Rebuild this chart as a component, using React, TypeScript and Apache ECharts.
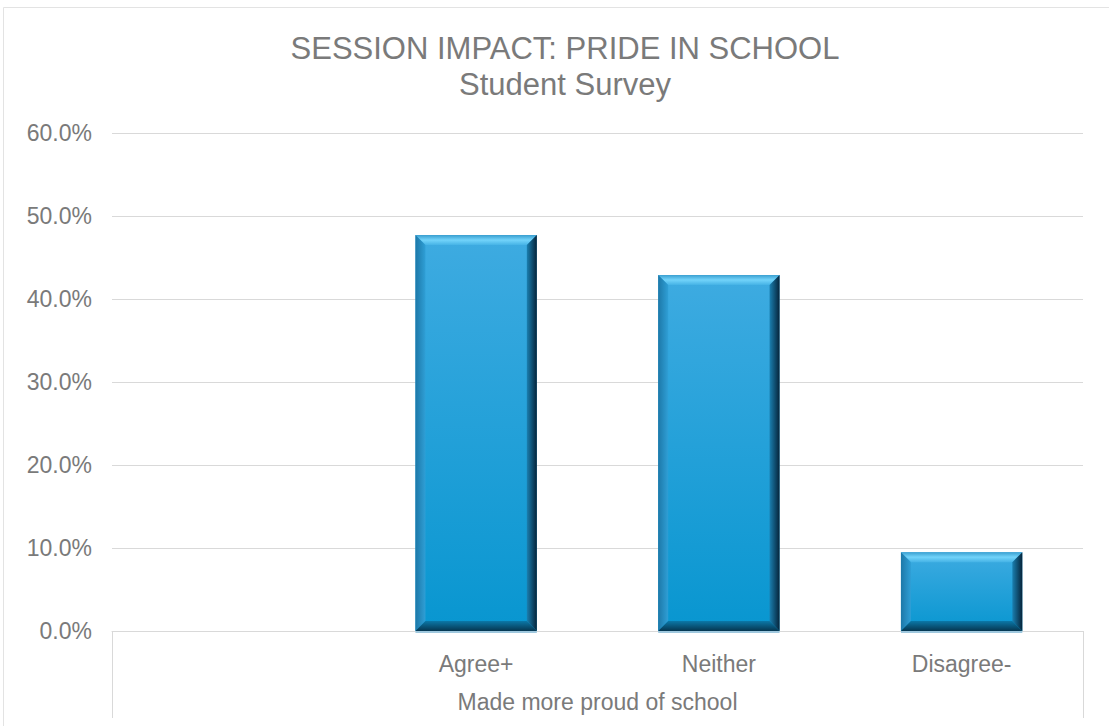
import React, { useEffect, useRef } from "react";
import * as echarts from "echarts";

const titleText = "SESSION IMPACT: PRIDE IN SCHOOL";
const subtitleText = "Student Survey";
const categories = ["", "Agree+", "Neither", "Disagree-"];
const values: (number | null)[] = [null, 47.7, 42.9, 9.5];
const groupLabel = "Made more proud of school";

const textColor = "#7a7a7a";
const lineColor = "#d9d9d9";
const font = "Liberation Sans, Arial, sans-serif";

export default function App() {
  const ref = useRef<HTMLDivElement>(null);
  useEffect(() => {
    if (!ref.current) return;
    const chart = echarts.init(ref.current, undefined, { renderer: "svg" });
    const data = values
      .map((v, i) => (v == null ? null : [i, v]))
      .filter((d) => d != null);
    chart.setOption({
      animation: false,
      backgroundColor: "#fff",
      textStyle: { fontFamily: font },
      title: {
        text: titleText + "\n" + subtitleText,
        left: 560,
        textAlign: "center",
        top: 25,
        textStyle: {
          fontSize: 31,
          fontWeight: "normal",
          color: textColor,
          lineHeight: 36,
          fontFamily: font,
        },
      },
      graphic: [
        {
          type: "rect",
          shape: { x: 3.5, y: 7.5, width: 1200, height: 800 },
          style: { fill: "none", stroke: "#e3e3e3", lineWidth: 1 },
          silent: true,
        },
      ],
      grid: { left: 112, right: 26, top: 133, bottom: 95 },
      xAxis: [
        {
          type: "category",
          data: categories,
          position: "bottom",
          axisLine: { show: true, lineStyle: { color: lineColor } },
          axisTick: { show: false },
          axisLabel: { color: textColor, fontSize: 23, margin: 21, interval: 0 },
        },
        {
          type: "category",
          data: [groupLabel],
          position: "bottom",
          offset: 0,
          axisLine: { show: false },
          axisTick: { show: true, length: 87, lineStyle: { color: lineColor } },
          axisLabel: { color: textColor, fontSize: 23, margin: 59 },
        },
      ],
      yAxis: {
        type: "value",
        min: 0,
        max: 60,
        interval: 10,
        axisLine: { show: false },
        axisTick: { show: false },
        splitLine: { lineStyle: { color: lineColor } },
        axisLabel: {
          color: textColor,
          fontSize: 23,
          margin: 20,
          formatter: (v: number) => v.toFixed(1) + "%",
        },
      },
      series: [
        {
          type: "custom",
          xAxisIndex: 0,
          encode: { x: 0, y: 1 },
          data,
          renderItem: (params: any, api: any) => {
            const cat = api.value(0);
            const v = api.value(1);
            const top = api.coord([cat, v]);
            const base = api.coord([cat, 0]);
            const bw = api.size([1, 0])[0] * 0.5;
            const x0 = top[0] - bw / 2;
            const x1 = x0 + bw;
            const y0 = top[1];
            const y1 = base[1];
            const b = 10;
            return {
              type: "group",
              children: [
                {
                  type: "rect",
                  shape: { x: x0, y: y0, width: bw, height: y1 - y0 },
                  style: {
                    fill: new echarts.graphic.LinearGradient(0, 0, 0, 1, [
                      { offset: 0, color: "#3eabe1" },
                      { offset: 1, color: "#0896d0" },
                    ]),
                  },
                },
                {
                  type: "polygon",
                  shape: { points: [[x0, y0], [x1, y0], [x1 - b, y0 + b], [x0 + b, y0 + b]] },
                  style: {
                    fill: new echarts.graphic.LinearGradient(0, 0, 0, 1, [
                      { offset: 0, color: "#3a9fd0" },
                      { offset: 0.5, color: "#72d3fa" },
                      { offset: 1, color: "#45b3e6" },
                    ]),
                  },
                },
                {
                  type: "polygon",
                  shape: { points: [[x0, y0], [x0 + b, y0 + b], [x0 + b, y1 - b], [x0, y1]] },
                  style: {
                    fill: new echarts.graphic.LinearGradient(0, 0, 1, 0, [
                      { offset: 0, color: "#1d78a8" },
                      { offset: 1, color: "#2f9fd6" },
                    ]),
                  },
                },
                {
                  type: "polygon",
                  shape: { points: [[x1, y0], [x1 - b, y0 + b], [x1 - b, y1 - b], [x1, y1]] },
                  style: {
                    fill: new echarts.graphic.LinearGradient(0, 0, 1, 0, [
                      { offset: 0, color: "#1a7fb0" },
                      { offset: 1, color: "#06243a" },
                    ]),
                  },
                },
                {
                  type: "polygon",
                  shape: { points: [[x0, y1], [x0 + b, y1 - b], [x1 - b, y1 - b], [x1, y1]] },
                  style: {
                    fill: new echarts.graphic.LinearGradient(0, 0, 0, 1, [
                      { offset: 0, color: "#0b78a8" },
                      { offset: 1, color: "#063650" },
                    ]),
                  },
                },
                {
                  type: "line",
                  shape: { x1: x0, y1: y1 + 1, x2: x1, y2: y1 + 1 },
                  style: { stroke: "#9fc8de", lineWidth: 2 },
                },
              ],
            };
          },
        },
      ],
    });
    return () => chart.dispose();
  }, []);
  return (
    <div
      ref={ref}
      style={{ position: "fixed", left: 0, top: 0, width: 1109, height: 726 }}
    />
  );
}
